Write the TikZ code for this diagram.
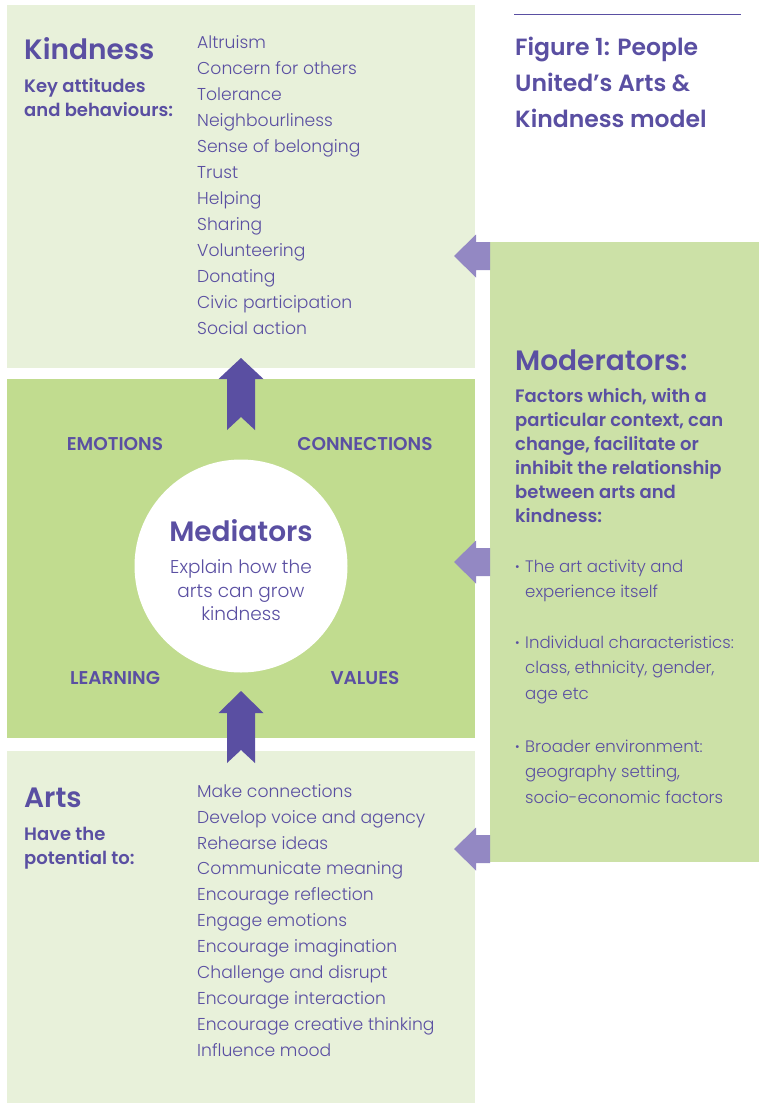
\documentclass[tikz,border=0pt]{standalone}
\usepackage{fontspec}
\setmainfont{Poppins}
\newfontfamily\lightfont{Poppins Light}
\newfontfamily\semifont{Poppins SemiBold}
\usepackage{tikz}

\definecolor{paleGreen}{HTML}{E8F1DA}
\definecolor{midGreen}{HTML}{C1DC8F}
\definecolor{modGreen}{HTML}{CCE1A7}
\definecolor{darkPurple}{HTML}{5A4FA2}
\definecolor{softPurple}{HTML}{9388C3}

\begin{document}
\begin{tikzpicture}[x=1pt, y=-1pt,
  every node/.style={inner sep=0pt, anchor=base west, text=darkPurple},
  item/.style={font=\lightfont\fontsize{17.2}{26}\selectfont},
  moditem/.style={font=\lightfont\fontsize{16.6}{26}\selectfont},
  dotmark/.style={font=\semifont\fontsize{16.6}{26}\selectfont},
  bigtitle/.style={font=\semifont\fontsize{28}{36}\selectfont},
  subtitle/.style={font=\semifont\fontsize{18}{24}\selectfont},
  caps/.style={font=\semifont\fontsize{18.5}{20}\selectfont, anchor=base}]
\useasboundingbox (0,0) rectangle (759,1103);

% boxes
\fill[paleGreen] (7,5) rectangle (475,368);
\fill[midGreen] (7,379) rectangle (475,738);
\fill[paleGreen] (7,751) rectangle (475,1103);
\fill[modGreen] (490,242) rectangle (759,862);

% up arrows
\fill[darkPurple] (241,358) -- (263.5,379) -- (255,379) -- (255,430) -- (241,417) -- (227,430) -- (227,379) -- (218.5,379) -- cycle;
\fill[darkPurple] (241,691) -- (263.5,713) -- (255,713) -- (255,763) -- (241,750) -- (227,763) -- (227,713) -- (218.5,713) -- cycle;

% left arrows
\fill[softPurple] (454,256) -- (476,234.5) -- (476,242) -- (490,242) -- (490,270) -- (476,270) -- (476,277.5) -- cycle;
\fill[softPurple] (454,562) -- (476,540.5) -- (476,548) -- (490,548) -- (490,576) -- (476,576) -- (476,583.5) -- cycle;
\fill[softPurple] (454,849) -- (476,827.5) -- (476,835) -- (490,835) -- (490,863) -- (476,863) -- (476,870.5) -- cycle;

% figure title
\draw[darkPurple, line width=1pt] (514,14) -- (741,14);
\node[font=\semifont\fontsize{23.5}{36}\selectfont] (fig1) at (515,55) {Figure 1: People};
\node[font=\semifont\fontsize{23.5}{36}\selectfont] (fig2) at (515,91) {United’s Arts \&};
\node[font=\semifont\fontsize{23.5}{36}\selectfont] (fig3) at (515,127) {Kindness model};

% kindness
\node[bigtitle] (kind) at (24,59) {Kindness};
\node[subtitle] (kindA) at (24,92) {Key attitudes};
\node[subtitle] (kindB) at (24,116) {and behaviours:};
\node[item] (k1) at (197,48) {Altruism};
\node[item] (k2) at (197,74) {Concern for others};
\node[item] (k3) at (197,100) {Tolerance};
\node[item] (k4) at (197,126) {Neighbourliness};
\node[item] (k5) at (197,152) {Sense of belonging};
\node[item] (k6) at (197,178) {Trust};
\node[item] (k7) at (197,204) {Helping};
\node[item] (k8) at (197,230) {Sharing};
\node[item] (k9) at (197,256) {Volunteering};
\node[item] (k10) at (197,282) {Donating};
\node[item] (k11) at (197,308) {Civic participation};
\node[item] (k12) at (197,334) {Social action};

% mediators
\fill[white] (241,566) circle (106.5);
\node[caps] (emo) at (115,450) {EMOTIONS};
\node[caps] (con) at (365,450) {CONNECTIONS};
\node[caps] (lea) at (115,684) {LEARNING};
\node[caps] (val) at (365,684) {VALUES};
\node[bigtitle, anchor=base] (med) at (241,541) {Mediators};
\node[item, font=\lightfont\fontsize{18.5}{24}\selectfont, anchor=base] (medA) at (241,573) {Explain how the};
\node[item, font=\lightfont\fontsize{18.5}{24}\selectfont, anchor=base] (medB) at (241,597) {arts can grow};
\node[item, font=\lightfont\fontsize{18.5}{24}\selectfont, anchor=base] (medC) at (241,620) {kindness};

% arts
\node[bigtitle] (arts) at (24,807) {Arts};
\node[subtitle] (artsA) at (24,840) {Have the};
\node[subtitle] (artsB) at (24,864) {potential to:};
\node[item] (a1) at (197,797) {Make connections};
\node[item] (a2) at (197,823) {Develop voice and agency};
\node[item] (a3) at (197,849) {Rehearse ideas};
\node[item] (a4) at (197,874) {Communicate meaning};
\node[item] (a5) at (197,900) {Encourage reflection};
\node[item] (a6) at (197,926) {Engage emotions};
\node[item] (a7) at (197,952) {Encourage imagination};
\node[item] (a8) at (197,978) {Challenge and disrupt};
\node[item] (a9) at (197,1004) {Encourage interaction};
\node[item] (a10) at (197,1030) {Encourage creative thinking};
\node[item] (a11) at (197,1056) {Influence mood};

% moderators
\node[bigtitle] (mod) at (515,370) {Moderators:};
\node[subtitle] (modA) at (515,402) {Factors which, with a};
\node[subtitle] (modB) at (515,426) {particular context, can};
\node[subtitle] (modC) at (515,450) {change, facilitate or};
\node[subtitle] (modD) at (515,474) {inhibit the relationship};
\node[subtitle] (modE) at (515,498) {between arts and};
\node[subtitle] (modF) at (515,522) {kindness:};
\node[dotmark] (b1) at (515,572) {·};
\node[moditem] (m1) at (525,572) {The art activity and};
\node[moditem] (m2) at (525,597) {experience itself};
\node[dotmark] (b2) at (515,648) {·};
\node[moditem] (m3) at (525,648) {Individual characteristics:};
\node[moditem] (m4) at (525,673) {class, ethnicity, gender,};
\node[moditem] (m5) at (525,699) {age etc};
\node[dotmark] (b3) at (515,752) {·};
\node[moditem] (m6) at (525,752) {Broader environment:};
\node[moditem] (m7) at (525,777) {geography setting,};
\node[moditem] (m8) at (525,803) {socio-economic factors};
\end{tikzpicture}
\end{document}
